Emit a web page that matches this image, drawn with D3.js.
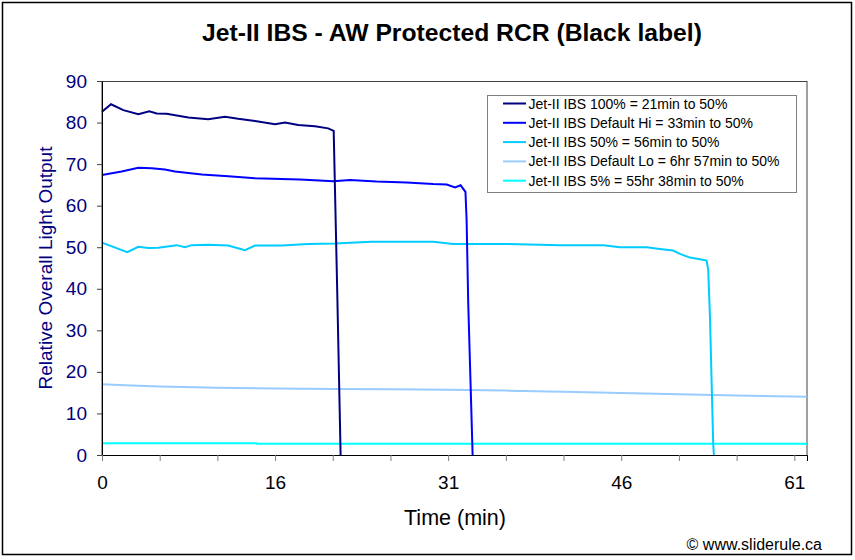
<!DOCTYPE html>
<html>
<head>
<meta charset="utf-8"/>
<title>Jet-II IBS - AW Protected RCR</title>
<script src="https://d3js.org/d3.v7.min.js"></script>
<style>
  body { margin: 0; background: #fff; }
  text { font-family: Arial, "Liberation Sans", sans-serif; }
</style>
</head>
<body>
<svg id="chart" width="855" height="560"></svg>
<script>
// category axis: ticks every 5 samples, labels every 15 samples
var xTickLabels = ["0", "16", "31", "46", "61"];
var yTicks = [0, 10, 20, 30, 40, 50, 60, 70, 80, 90];

var seriesNames = [
  "Jet-II IBS 100% = 21min to 50%",
  "Jet-II IBS Default Hi = 33min to 50%",
  "Jet-II IBS 50% = 56min to 50%",
  "Jet-II IBS Default Lo = 6hr 57min to 50%",
  "Jet-II IBS 5% = 55hr 38min to 50%"
];
var seriesColors = ["#000080", "#0000ff", "#00ccff", "#99ccff", "#00ffff"];

// [sample position, relative output]
var s100 = [[0,82.6],[0.78,84.4],[1.85,83.0],[3.15,82.0],[4.1,82.7],[4.74,82.2],[5.6,82.1],
  [7.48,81.2],[9.2,80.8],[10.66,81.4],[11.8,80.9],[13.26,80.4],[15.0,79.6],[15.86,80.0],
  [17.0,79.4],[18.46,79.1],[19.6,78.6],[20.08,78.0],[20.39,38.9],[20.68,0]];
var sHi = [[0,67.4],[1.7,68.2],[3.15,69.1],[4.3,69.0],[5.45,68.7],[6.33,68.2],[8.65,67.5],
  [10.95,67.1],[13.26,66.6],[15.57,66.4],[17.16,66.3],[20.05,65.9],[21.5,66.2],[23.8,65.8],
  [26.4,65.6],[28.7,65.2],[29.87,65.1],[30.6,64.4],[31.08,64.9],[31.5,63.3],[31.6,56.5],
  [31.74,36.5],[31.95,16.4],[32.12,0]];
var s50 = [[0,51.1],[2.19,48.8],[3.15,50.1],[4.01,49.8],[4.88,49.9],[6.47,50.5],[7.19,50.0],
  [7.77,50.5],[9.21,50.6],[10.94,50.4],[12.39,49.3],[13.26,50.4],[15.57,50.4],[17.88,50.8],
  [20.19,50.9],[23.37,51.3],[28.7,51.3],[30.44,50.8],[34.49,50.8],[39.69,50.5],[43.44,50.5],
  [44.9,50.0],[47.2,50.0],[48.35,49.6],[49.5,49.2],[50.09,48.4],[50.95,47.5],[51.82,47.1],
  [52.4,46.8],[52.54,44.5],[52.69,33.3],[52.83,18.0],[52.97,2.8],[53.03,0]];
var sLo = [[0,17.0],[2,16.8],[5,16.5],[10,16.2],[15,16.0],[20,15.9],[25,15.8],[30,15.7],
  [35,15.5],[40,15.2],[45,14.9],[50,14.6],[55,14.3],[61.1,14.0]];
var s5 = [[0,2.8],[13.4,2.8],[13.4,2.7],[61.1,2.7]];

var seriesData = [s100, sHi, s50, sLo, s5];

var svg = d3.select("#chart");
var plotLeft = 102, plotRight = 807, plotTop = 81, plotBottom = 455;

// outer frame
svg.append("rect")
  .attr("x", 2.5).attr("y", 2.5)
  .attr("width", 849).attr("height", 552)
  .attr("fill", "#fff").attr("stroke", "#000").attr("stroke-width", 1.5);

svg.append("text")
  .attr("x", 452).attr("y", 41)
  .attr("text-anchor", "middle")
  .style("font-size", "24.7px").style("font-weight", "bold")
  .text("Jet-II IBS - AW Protected RCR (Black label)");

var x = d3.scaleLinear().domain([0, 61.1]).range([plotLeft, plotRight]);
var y = d3.scaleLinear().domain([0, 90]).range([plotBottom, plotTop]);

// plot area border
svg.append("rect")
  .attr("x", plotLeft).attr("y", plotTop + 0.5)
  .attr("width", plotRight - plotLeft).attr("height", plotBottom - plotTop)
  .attr("fill", "none").attr("stroke", "#404040").attr("stroke-width", 1);

// lines
var line = d3.line()
  .x(function(d) { return x(d[0]); })
  .y(function(d) { return y(d[1]); });

// draw the faint ones first so the dark ones sit on top
var order = [4, 3, 2, 1, 0];
order.forEach(function(k) {
  svg.append("path")
    .datum(seriesData[k])
    .attr("d", line)
    .attr("fill", "none")
    .attr("stroke", seriesColors[k])
    .attr("stroke-width", 2);
});

// y axis
var yAxis = svg.append("g")
  .attr("transform", "translate(" + plotLeft + ",0)")
  .call(d3.axisLeft(y).tickValues(yTicks).tickSize(5).tickPadding(10));
yAxis.select(".domain").attr("stroke", "#000");
yAxis.selectAll(".tick line").attr("stroke", "#404040");
yAxis.selectAll("text")
  .attr("fill", "#000080")
  .style("font-size", "19px");

// x axis
var xTickValues = d3.range(0, 61, 5);
var xAxis = svg.append("g")
  .attr("transform", "translate(0," + plotBottom + ")")
  .call(d3.axisBottom(x).tickValues(xTickValues).tickSize(6).tickPadding(15)
    .tickFormat(function(d) { return d % 15 === 0 ? xTickLabels[d / 15] : ""; }));
xAxis.select(".domain").attr("stroke", "#000");
xAxis.selectAll(".tick line").attr("stroke", "#808080");
xAxis.selectAll("text")
  .attr("fill", "#000")
  .style("font-size", "19px");

svg.append("text")
  .attr("transform", "translate(52," + (plotTop + plotBottom) / 2 + ") rotate(-90)")
  .attr("text-anchor", "middle")
  .attr("fill", "#000080")
  .style("font-size", "19px")
  .text("Relative Overall Light Output");

svg.append("text")
  .attr("x", 455).attr("y", 525)
  .attr("text-anchor", "middle")
  .style("font-size", "21.5px")
  .text("Time (min)");

svg.append("text")
  .attr("x", 822).attr("y", 550)
  .attr("text-anchor", "end")
  .style("font-size", "16px")
  .text("\u00a9 www.sliderule.ca");

// legend
var legend = svg.append("g");
legend.append("rect")
  .attr("x", 487.5).attr("y", 95.5)
  .attr("width", 309).attr("height", 97)
  .attr("fill", "#fff").attr("stroke", "#808080");

var rows = legend.selectAll("g.row")
  .data(seriesNames)
  .enter().append("g")
  .attr("class", "row")
  .attr("transform", function(d, i) { return "translate(0," + (103.5 + i * 19.3) + ")"; });

rows.append("line")
  .attr("x1", 503).attr("x2", 526)
  .attr("y1", 0).attr("y2", 0)
  .attr("stroke", function(d, i) { return seriesColors[i]; })
  .attr("stroke-width", 2);

rows.append("text")
  .attr("x", 528.5).attr("y", 5)
  .style("font-size", "14px")
  .text(function(d) { return d; });
</script>
</body>
</html>
